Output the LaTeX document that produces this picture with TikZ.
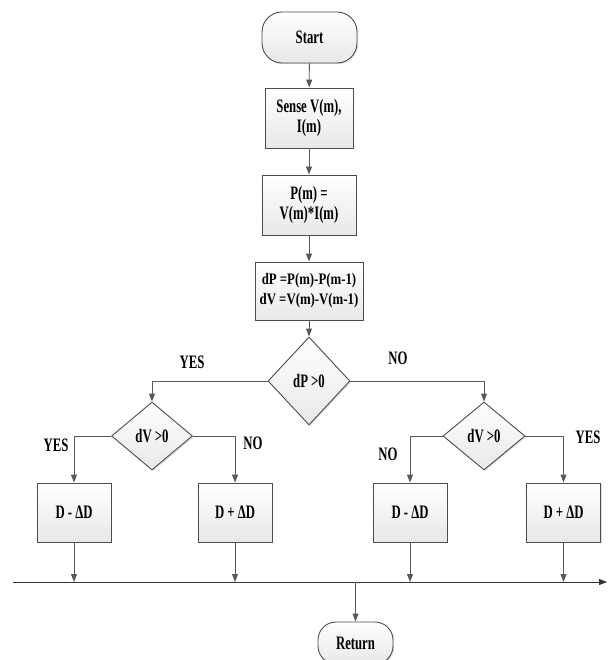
\documentclass[tikz,border=0pt]{standalone}
\usepackage{fontspec}
\setmainfont{Liberation Serif}[FakeStretch=0.67]
\newfontfamily\eqfont{Liberation Serif}[FakeStretch=0.8]
\usepackage{tikz}
\usetikzlibrary{arrows.meta, positioning, shapes.geometric, shadows}

\tikzset{
  base/.style={draw=black!70, line width=0.9pt, top color=white, bottom color=black!9,
    drop shadow={opacity=0.25, shadow xshift=1.2pt, shadow yshift=-1.2pt},
    font=\fontsize{19}{20}\selectfont\bfseries, align=center, inner sep=0pt},
  term/.style={base, rectangle, rounded corners=20pt},
  proc/.style={base, rectangle},
  test/.style={base, diamond},
  flow/.style={draw=black!65, line width=0.9pt, -{Triangle[length=8pt,width=6pt]}},
  lbl/.style={font=\fontsize{19}{20}\selectfont\bfseries}
}

\begin{document}
\begin{tikzpicture}[x=1pt, y=-1pt]
\useasboundingbox (0,0) rectangle (608,660);

% main column
\node[term, minimum width=95pt, minimum height=51pt] (start) at (309.5,37.5) {Start};
\node[proc, minimum width=88pt, minimum height=60pt] (sense) at (309,118) {Sense V(m),\\ I(m)};
\node[proc, minimum width=94pt, minimum height=60pt] (power) at (309,205) {P(m) =\\ V(m)*I(m)};
\node[proc, minimum width=108pt, minimum height=58pt,
  font=\eqfont\fontsize{16}{20}\selectfont\bfseries] (diff) at (309,291) {dP =P(m)-P(m-1)\\ dV =V(m)-V(m-1)};
\node[test, minimum width=82pt, minimum height=88pt] (dp) at (309,381) {dP >0};

% second level tests
\node[test, minimum width=81pt, minimum height=68pt] (dvl) at (152,436) {dV >0};
\node[test, minimum width=82pt, minimum height=68pt] (dvr) at (484,436) {dV >0};

% duty updates
\node[proc, minimum width=74pt, minimum height=59pt] (dec1) at (74,512.5) {D - ΔD};
\node[proc, minimum width=74pt, minimum height=59pt] (inc1) at (235,512.5) {D + ΔD};
\node[proc, minimum width=74pt, minimum height=59pt] (dec2) at (410,512.5) {D - ΔD};
\node[proc, minimum width=74pt, minimum height=59pt] (inc2) at (563.5,512.5) {D + ΔD};

\node[term, minimum width=75pt, minimum height=42pt, rounded corners=18pt] (ret) at (355.5,643) {Return};

\coordinate (busL) at (13,582);
\coordinate (busR) at (607,582);

\draw[flow] (start) -- (sense);
\draw[flow] (sense) -- (power);
\draw[flow] (power) -- (diff);
\draw[flow] (diff) -- (dp);
\draw[flow] (dp.west) -| (dvl.north);
\draw[flow] (dp.east) -| (dvr.north);
\draw[flow] (dvl.west) -| (dec1.north);
\draw[flow] (dvl.east) -| (inc1.north);
\draw[flow] (dvr.west) -| (dec2.north);
\draw[flow] (dvr.east) -| (inc2.north);

\draw[flow, draw=black!80] (busL) -- (busR);
\foreach \b in {dec1, inc1, dec2, inc2}
  \draw[flow] (\b.south) -- (\b.south |- busL);
\draw[flow] (ret.north |- busL) -- (ret.north);

% branch labels
\node[lbl] (y0) at (192,362) {YES};
\node[lbl] (n0) at (398,358) {NO};
\node[lbl] (y1) at (56,445) {YES};
\node[lbl] (n1) at (253,443) {NO};
\node[lbl] (n2) at (388,454) {NO};
\node[lbl] (y2) at (588,437) {YES};
\end{tikzpicture}
\end{document}
